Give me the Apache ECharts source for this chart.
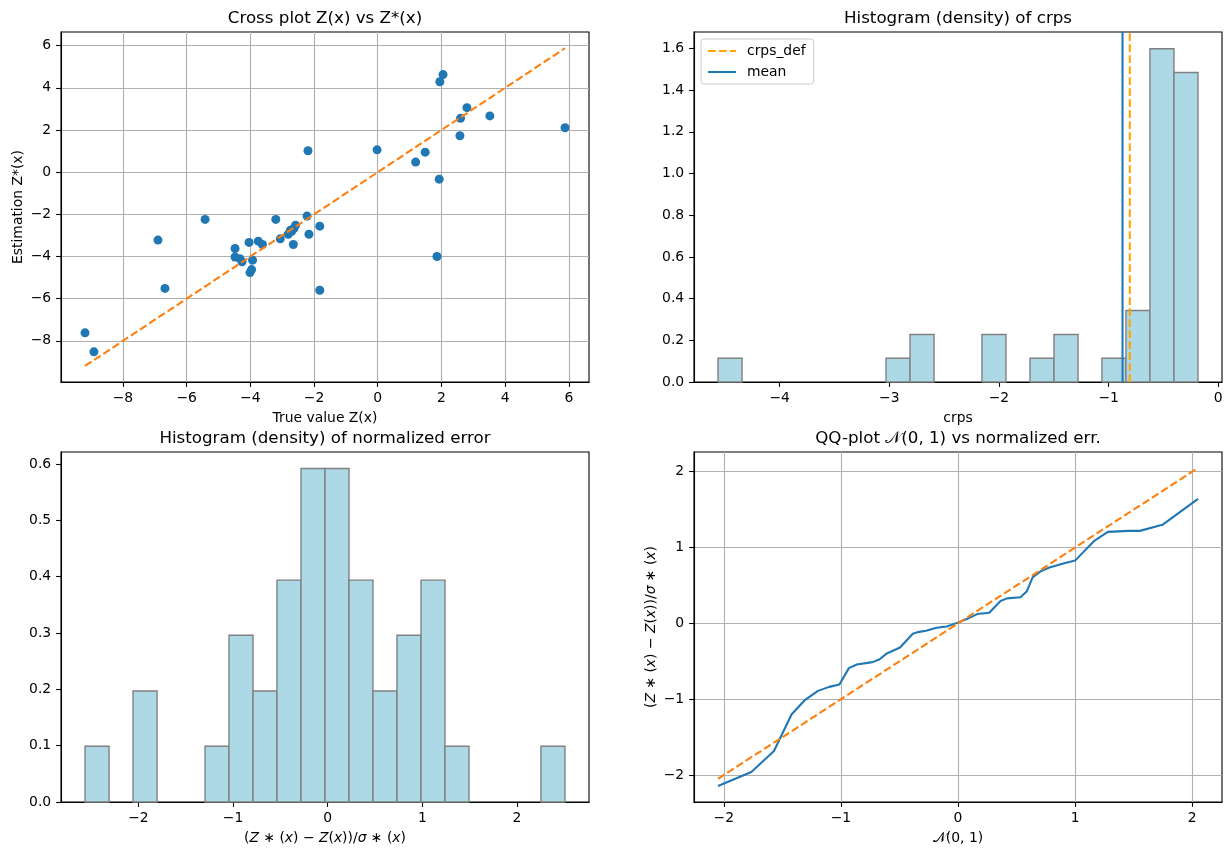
<!DOCTYPE html>
<html>
<head>
<meta charset="utf-8">
<script src="https://cdn.jsdelivr.net/npm/echarts@6/dist/echarts.min.js"></script>
<style>
  html, body { margin: 0; padding: 0; background: #fff; }
  #chart { width: 1232px; height: 859px; }
</style>
</head>
<body>
<div id="chart"></div>
<script>
// cross plot: true value vs estimation
var trueVals = [-9.19, -8.91, -6.90, -6.68, -5.42, -4.48, -4.48, -4.33, -4.26, -4.04,
                -3.93, -3.96, -4.01, -3.75, -3.62, -3.20, -3.06, -2.81, -2.74, -2.65,
                -2.63, -2.58, -2.22, -2.16, -2.19, -1.82, -1.82, -0.02, 1.19, 1.49,
                1.93, 1.86, 1.95, 2.05, 2.58, 2.60, 2.80, 3.52, 5.88, -2.70];
var estVals = [-7.62, -8.52, -3.22, -5.51, -2.24, -3.62, -4.02, -4.10, -4.25, -3.33,
               -4.17, -4.62, -4.76, -3.27, -3.43, -2.24, -3.16, -2.94, -2.75, -3.43,
               -2.67, -2.51, -2.08, -2.94, 1.02, -2.56, -5.60, 1.06, 0.48, 0.95,
               -0.33, -4.00, 4.29, 4.63, 1.73, 2.56, 3.06, 2.67, 2.11, -2.80];
var diagEnds = [-9.19, 5.88];

// histogram of crps
var crpsEdges = [-4.562, -4.343, -4.124, -3.905, -3.687, -3.468, -3.249, -3.030, -2.811, -2.592,
                 -2.374, -2.155, -1.936, -1.717, -1.498, -1.279, -1.061, -0.842, -0.623, -0.404, -0.185];
var crpsDensity = [0.114, 0, 0, 0, 0, 0, 0, 0.114, 0.228, 0,
                   0, 0.228, 0, 0.114, 0.228, 0, 0.114, 0.343, 1.599, 1.485];
var crpsMean = -0.873;
var crpsDef = -0.807;

// histogram of normalized error
var errEdges = [-2.564, -2.310, -2.057, -1.803, -1.550, -1.296, -1.043, -0.789, -0.536, -0.282,
                -0.029, 0.225, 0.478, 0.732, 0.986, 1.239, 1.493, 1.746, 2.000, 2.253, 2.507];
var errDensity = [0.099, 0, 0.197, 0, 0, 0.099, 0.296, 0.197, 0.394, 0.592,
                  0.592, 0.394, 0.197, 0.296, 0.394, 0.099, 0, 0, 0, 0.099];

// qq plot
var qqTheo = [-2.05, -1.765, -1.572, -1.421, -1.309, -1.196, -1.100, -1.013, -0.932, -0.865,
              -0.730, -0.672, -0.608, -0.495, -0.386, -0.344, -0.273, -0.183, -0.096, 0.000,
              0.074, 0.164, 0.267, 0.363, 0.418, 0.534, 0.588, 0.637, 0.711, 0.781,
              0.884, 1.000, 1.167, 1.280, 1.457, 1.553, 1.746, 2.05];
var qqErr = [-2.145, -1.960, -1.683, -1.198, -1.013, -0.890, -0.837, -0.806, -0.590, -0.542,
             -0.511, -0.476, -0.396, -0.317, -0.137, -0.115, -0.097, -0.057, -0.040, 0.010,
             0.057, 0.123, 0.141, 0.295, 0.330, 0.344, 0.423, 0.608, 0.692, 0.736,
             0.784, 0.828, 1.093, 1.207, 1.220, 1.220, 1.300, 1.643];
var qqDiag = [-2.05, 2.05];

// tick labels
var crossTicks = [-8, -6, -4, -2, 0, 2, 4, 6];
var crpsXTicks = [-4, -3, -2, -1, 0];
var crpsYTicks = [0, 0.2, 0.4, 0.6, 0.8, 1.0, 1.2, 1.4, 1.6];
var errXTicks = [-2, -1, 0, 1, 2];
var errYTicks = [0, 0.1, 0.2, 0.3, 0.4, 0.5, 0.6];
var qqTicks = [-2, -1, 0, 1, 2];

var F = 'DejaVu Sans';
var FS = 13.9;
var mathErr = '({i|Z} \u2217 ({i|x}) \u2212 {i|Z}({i|x}))/{i|\u03c3} \u2217 ({i|x})';

function minus(v) { return String(v).replace('-', '\u2212'); }
function fix1(v) { return v.toFixed(1); }

function axis(gi, pos, min, max, ticks, name, gap, grid, fmt) {
  return {
    type: 'value', gridIndex: gi, position: pos, min: min, max: max,
    name: name, nameLocation: 'middle', nameGap: gap,
    nameTextStyle: {
      fontFamily: F, fontSize: FS, color: '#000',
      rich: { i: { fontFamily: F, fontSize: FS, fontStyle: 'italic', color: '#000' } }
    },
    axisLine: { show: true, onZero: false, lineStyle: { color: '#000', width: 1.1 } },
    axisTick: { show: true, inside: false, length: 4.9, customValues: ticks,
                lineStyle: { color: '#000', width: 1.1 } },
    axisLabel: { customValues: ticks, margin: 9.8, fontFamily: F, fontSize: FS, color: '#000',
                 formatter: fmt || minus },
    splitLine: { show: grid, lineStyle: { color: '#b0b0b0', width: 1.1 } }
  };
}

function hist(edges, dens, idx) {
  var data = [];
  for (var i = 0; i < dens.length; i++) {
    if (dens[i] > 0) data.push([edges[i], edges[i + 1], dens[i]]);
  }
  return {
    type: 'custom', xAxisIndex: idx, yAxisIndex: idx, data: data,
    encode: { x: [0, 1], y: 2 },
    renderItem: function (params, api) {
      var a = api.coord([api.value(0), 0]);
      var b = api.coord([api.value(1), api.value(2)]);
      return {
        type: 'rect',
        shape: { x: a[0], y: b[1], width: b[0] - a[0], height: a[1] - b[1] },
        style: { fill: '#add8e6', stroke: '#808080', lineWidth: 1.4 }
      };
    }
  };
}

function titleText(txt, x, y) {
  return { type: 'text', x: x, y: y,
           style: { text: txt, fontFamily: F, fontSize: 16.7, fill: '#000', align: 'center', verticalAlign: 'middle' } };
}

var chart = echarts.init(document.getElementById('chart'));
chart.setOption({
  animation: false,
  backgroundColor: '#fff',
  grid: [
    { left: 61, top: 32, width: 528, height: 350, show: true, borderColor: '#000', borderWidth: 1.1 },
    { left: 694, top: 32, width: 528, height: 350, show: true, borderColor: '#000', borderWidth: 1.1 },
    { left: 61, top: 452, width: 528, height: 350, show: true, borderColor: '#000', borderWidth: 1.1 },
    { left: 694, top: 452, width: 528, height: 350, show: true, borderColor: '#000', borderWidth: 1.1 }
  ],
  graphic: [
    titleText('Cross plot Z(x) vs Z*(x)', 325, 18.5),
    titleText('Histogram (density) of crps', 958, 18.5),
    titleText('Histogram (density) of normalized error', 325, 439),
    titleText('QQ-plot \ud835\udca9(0, 1) vs normalized err.', 958, 439)
  ],
  xAxis: [
    axis(0, 'bottom', -9.944, 6.633, crossTicks, 'True value Z(x)', 29, true),
    axis(1, 'bottom', -4.781, 0.034, crpsXTicks, 'crps', 29, false),
    axis(2, 'bottom', -2.818, 2.761, errXTicks, mathErr, 29, false),
    axis(3, 'bottom', -2.255, 2.255, qqTicks, '\ud835\udca9(0, 1)', 29, true)
  ],
  yAxis: [
    axis(0, 'left', -9.95, 6.65, crossTicks, 'Estimation Z*(x)', 36, true),
    axis(1, 'left', 0, 1.679, crpsYTicks, '', 36, false, fix1),
    axis(2, 'left', 0, 0.6214, errYTicks, '', 36, false, fix1),
    axis(3, 'left', -2.355, 2.26, qqTicks, mathErr, 36, true)
  ],
  legend: {
    orient: 'vertical', left: 701, top: 39,
    data: ['crps_def', 'mean'],
    itemWidth: 28, itemHeight: 16, itemGap: 7,
    padding: [5, 8, 5, 6],
    backgroundColor: 'rgba(255,255,255,0.8)',
    borderColor: '#cccccc', borderWidth: 1, borderRadius: 3,
    itemStyle: { opacity: 0 },
    lineStyle: { opacity: 1 },
    textStyle: { fontFamily: F, fontSize: FS, color: '#000', padding: [0, 0, 0, 6] }
  },
  series: [
    {
      type: 'scatter', xAxisIndex: 0, yAxisIndex: 0, symbolSize: 9,
      itemStyle: { color: '#1f77b4', opacity: 1 },
      data: trueVals.map(function (v, i) { return [v, estVals[i]]; })
    },
    {
      type: 'line', xAxisIndex: 0, yAxisIndex: 0, symbol: 'none',
      lineStyle: { color: '#ff7f0e', width: 2.08, type: [7.7, 3.3] },
      data: [[diagEnds[0], diagEnds[0]], [diagEnds[1], diagEnds[1]]]
    },
    hist(crpsEdges, crpsDensity, 1),
    {
      name: 'crps_def', type: 'line', xAxisIndex: 1, yAxisIndex: 1, symbol: 'none',
      lineStyle: { color: '#ffa500', width: 2.08, type: [7.7, 3.3] },
      itemStyle: { color: '#ffa500' },
      data: [[crpsDef, 0], [crpsDef, 1.679]]
    },
    {
      name: 'mean', type: 'line', xAxisIndex: 1, yAxisIndex: 1, symbol: 'none',
      lineStyle: { color: '#1f77b4', width: 2.08 },
      itemStyle: { color: '#1f77b4' },
      data: [[crpsMean, 0], [crpsMean, 1.679]]
    },
    hist(errEdges, errDensity, 2),
    {
      type: 'line', xAxisIndex: 3, yAxisIndex: 3, symbol: 'none',
      lineStyle: { color: '#1f77b4', width: 2.08 },
      data: qqTheo.map(function (v, i) { return [v, qqErr[i]]; })
    },
    {
      type: 'line', xAxisIndex: 3, yAxisIndex: 3, symbol: 'none',
      lineStyle: { color: '#ff7f0e', width: 2.08, type: [7.7, 3.3] },
      data: [[qqDiag[0], qqDiag[0]], [qqDiag[1], qqDiag[1]]]
    }
  ]
});
</script>
</body>
</html>
